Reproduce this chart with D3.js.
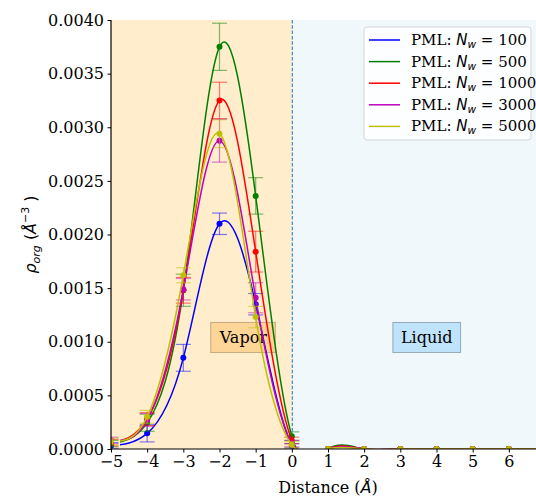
<!DOCTYPE html>
<html>
<head>
<meta charset="utf-8">
<script src="https://cdn.jsdelivr.net/npm/d3@7"></script>
<style>
  html, body { margin: 0; padding: 0; background: #fff; overflow: hidden; }
  svg { display: block; }
</style>
</head>
<body>
<svg id="chart" width="536" height="497"></svg>
<script>
// ---------------- data ----------------
const distances = [-5, -4, -3, -2, -1, 0, 1, 2, 3, 4, 5, 6, 7];
const seriesNames = ["100", "500", "1000", "3000", "5000"];
const seriesColors = ["#0000ff", "#008000", "#ff0000", "#bf00bf", "#bfbf00"];
const rhoN100  = [0.00003, 0.000146, 0.00085, 0.00210, 0.00135, 0.00003, 0, 0, 0, 0, 0, 0, 0];
const rhoN500  = [0.00005, 0.000245, 0.00148, 0.00375, 0.00236, 0.00012, 0, 0, 0, 0, 0, 0, 0];
const rhoN1000 = [0.00006, 0.00028, 0.00148, 0.00325, 0.00184, 0.00008, 0, 0, 0, 0, 0, 0, 0];
const rhoN3000 = [0.00008, 0.00027, 0.00149, 0.002875, 0.00141, 0.00005, 0, 0, 0, 0, 0, 0, 0];
const rhoN5000 = [0.00007, 0.00030, 0.00162, 0.00294, 0.00123, 0.00004, 0, 0, 0, 0, 0, 0, 0];
const errN100  = [0.00003, 0.00008, 0.000125, 0.0001, 0.0001, 0.00002, 0, 0, 0, 0, 0, 0, 0];
const errN500  = [0.00003, 0.00008, 0.00015, 0.00022, 0.00017, 0.00004, 0, 0, 0, 0, 0, 0, 0];
const errN1000 = [0.00003, 0.00006, 0.00012, 0.00017, 0.00019, 0.00003, 0, 0, 0, 0, 0, 0, 0];
const errN3000 = [0.00003, 0.00006, 0.00010, 0.00020, 0.00014, 0.00003, 0, 0, 0, 0, 0, 0, 0];
const errN5000 = [0.00003, 0.00006, 0.00007, 0.00013, 0.00010, 0.00003, 0, 0, 0, 0, 0, 0, 0];
const xTicks = [-5, -4, -3, -2, -1, 0, 1, 2, 3, 4, 5, 6];
const yTicks = [0, 0.0005, 0.001, 0.0015, 0.002, 0.0025, 0.003, 0.0035, 0.004];
const curveStart = -4.75;
const regionLabels = [{text: "Vapor", x: -1.34, y: 0.00104}, {text: "Liquid", x: 3.73, y: 0.00104}];

const rhoSeries = [rhoN100, rhoN500, rhoN1000, rhoN3000, rhoN5000];
const errSeries = [errN100, errN500, errN1000, errN3000, errN5000];

// ---------------- layout ----------------
const svg = d3.select("#chart");
const L = 111, T = 20, R = 545, B = 449;
const x = d3.scaleLinear().domain([-5, 7]).range([L, R]);
const y = d3.scaleLinear().domain([0, 0.004]).range([B, T]);
const serif = "'DejaVu Serif', serif";
const sans = "'DejaVu Sans', sans-serif";

svg.append("defs").append("clipPath").attr("id", "plotclip")
  .append("rect").attr("x", L).attr("y", T).attr("width", R - L).attr("height", B - T);
svg.select("defs").append("clipPath").attr("id", "curveclip")
  .append("rect").attr("x", x(curveStart)).attr("y", T).attr("width", R - x(curveStart)).attr("height", B - T);

// background regions
svg.append("rect").attr("x", x(-5)).attr("y", T).attr("width", x(0) - x(-5)).attr("height", B - T).attr("fill", "#ffedcc");
svg.append("rect").attr("x", x(0)).attr("y", T).attr("width", x(7) - x(0)).attr("height", B - T).attr("fill", "#f0f8fc");

// dashed line at 0
svg.append("line").attr("x1", x(0) + 0.5).attr("x2", x(0) + 0.5).attr("y1", T).attr("y2", B)
  .attr("stroke", "#3b8bd0").attr("stroke-width", 1.2).attr("stroke-dasharray", "3.5,1.8");

// region label boxes
regionLabels.forEach((r, i) => {
  const g = svg.append("g");
  const t = g.append("text").attr("x", x(r.x)).attr("y", y(r.y) + 5.5)
    .attr("text-anchor", "middle").attr("font-family", serif).attr("font-size", 16).attr("fill", "#000").text(r.text);
  const bb = t.node().getBBox();
  g.insert("rect", "text").attr("x", bb.x - 8).attr("y", y(r.y) - 15).attr("width", bb.width + 16).attr("height", 30)
    .attr("fill", i === 0 ? "#fcd597" : "#bfe3fb")
    .attr("stroke", i === 0 ? "#c6aa80" : "#93a9b6").attr("stroke-width", 1);
});

// series
const plot = svg.append("g").attr("clip-path", "url(#plotclip)");
const line = d3.line().x(d => x(d[0])).y(d => y(d[1])).curve(d3.curveNatural);
const capHalf = 7.5;
rhoSeries.forEach((vals, si) => {
  const col = seriesColors[si];
  const errs = errSeries[si];
  const pts = distances.map((d, i) => [d, vals[i], errs[i]]);
  const eg = plot.append("g").attr("stroke", col).attr("stroke-opacity", 0.5).attr("stroke-width", 1.2);
  pts.forEach(p => {
    if (p[2] > 0) {
      eg.append("line").attr("x1", x(p[0])).attr("x2", x(p[0])).attr("y1", y(p[1] - p[2])).attr("y2", y(p[1] + p[2]));
      [p[1] - p[2], p[1] + p[2]].forEach(v => {
        eg.append("line").attr("x1", x(p[0]) - capHalf).attr("x2", x(p[0]) + capHalf).attr("y1", y(v)).attr("y2", y(v));
      });
    }
  });
  plot.append("g").attr("clip-path", "url(#curveclip)").append("path").datum(pts)
    .attr("d", line).attr("fill", "none").attr("stroke", col).attr("stroke-width", 1.5);
  plot.append("g").selectAll("circle").data(pts).join("circle")
    .attr("cx", d => x(d[0])).attr("cy", d => y(d[1])).attr("r", 3).attr("fill", col);
});

// axes
const xAxis = d3.axisBottom(x).tickValues(xTicks).tickSize(3.5).tickPadding(3.5)
  .tickFormat(d => d < 0 ? "\u2212" + Math.abs(d) : String(d));
const gx = svg.append("g").attr("transform", `translate(0,${B})`).call(xAxis);
gx.select(".domain").attr("d", `M${L},0H${R}`).attr("stroke", "#000").attr("stroke-width", 1.2);
gx.selectAll("text").attr("font-family", serif).attr("font-size", 16).attr("fill", "#000");

const yAxis = d3.axisLeft(y).tickValues(yTicks).tickSize(3.5).tickPadding(3.5).tickFormat(d3.format(".4f"));
const gy = svg.append("g").attr("transform", `translate(${L},0)`).call(yAxis);
gy.select(".domain").attr("d", `M0,${B}V${T}`).attr("stroke", "#000").attr("stroke-width", 1.2);
gy.selectAll("text").attr("font-family", serif).attr("font-size", 16).attr("fill", "#000");

// axis labels
const xl = svg.append("text").attr("x", (L + R) / 2).attr("y", 493).attr("text-anchor", "middle")
  .attr("font-family", serif).attr("font-size", 16).attr("fill", "#000");
xl.append("tspan").text("Distance (");
xl.append("tspan").attr("font-family", sans).attr("font-style", "italic").text("Å");
xl.append("tspan").text(")");

const yl = svg.append("text").attr("transform", `translate(36,${(T + B) / 2}) rotate(-90)`).attr("text-anchor", "middle")
  .attr("font-family", sans).attr("font-size", 16).attr("fill", "#000");
yl.append("tspan").attr("font-style", "italic").text("ρ");
yl.append("tspan").attr("font-style", "italic").attr("font-size", 11).attr("dy", 4).text("org");
yl.append("tspan").attr("dy", -4).text(" (");
yl.append("tspan").attr("font-style", "italic").text("Å");
yl.append("tspan").attr("font-size", 11).attr("dy", -7).text("\u22123");
yl.append("tspan").attr("dy", 7).text(" )");

// legend
const lg = svg.append("g");
lg.append("rect").attr("x", 364).attr("y", 27).attr("width", 167).attr("height", 113).attr("rx", 3)
  .attr("fill", "#fff").attr("fill-opacity", 0.8).attr("stroke", "#d6d6d6").attr("stroke-width", 1);
seriesNames.forEach((n, i) => {
  const cy = 40 + i * 21.6;
  lg.append("line").attr("x1", 369).attr("x2", 400).attr("y1", cy).attr("y2", cy)
    .attr("stroke", seriesColors[i]).attr("stroke-width", 1.5);
  const t = lg.append("text").attr("x", 411).attr("y", cy + 5).attr("font-family", serif).attr("font-size", 15).attr("fill", "#000");
  t.append("tspan").text("PML: ");
  t.append("tspan").attr("font-family", sans).attr("font-style", "italic").text("N");
  t.append("tspan").attr("font-family", sans).attr("font-style", "italic").attr("font-size", 10.5).attr("dy", 3).text("w");
  t.append("tspan").attr("dy", -3).text(" = " + n);
});
</script>
</body>
</html>
